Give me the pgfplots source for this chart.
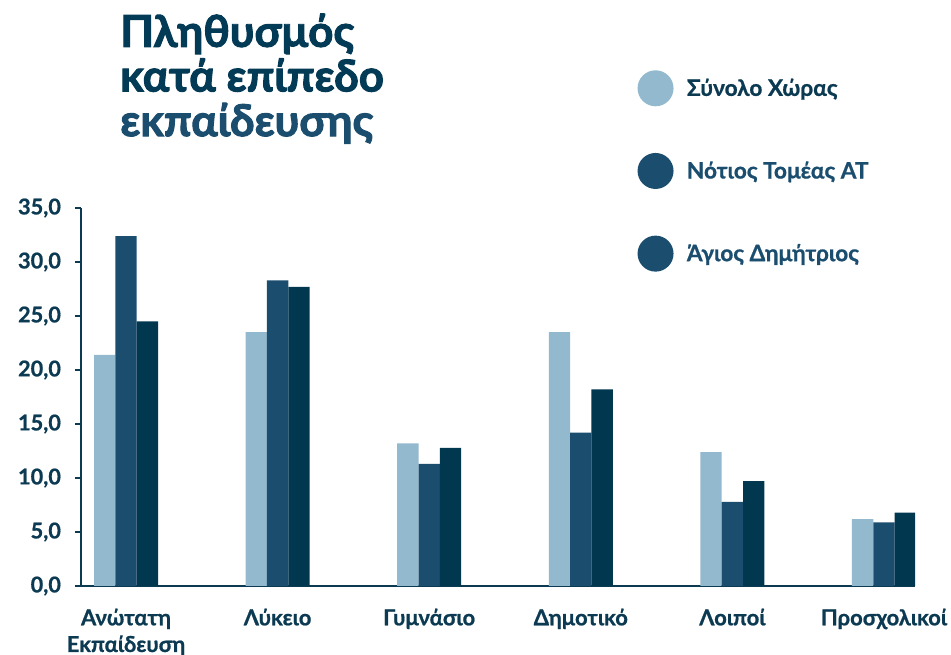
\documentclass[border=0pt]{standalone}
\usepackage{fontspec}
\setmainfont{Lato}[BoldFeatures={FakeBold=0.8}]
\newfontfamily\titlefont{Lato}[BoldFeatures={FakeBold=2.2}]
\usepackage{pgfplots}
\pgfplotsset{compat=1.18}
\definecolor{cLight}{HTML}{93B9CE}
\definecolor{cMid}{HTML}{1A4D6E}
\definecolor{cDark}{HTML}{023750}
\definecolor{cText}{HTML}{0B3A52}
\definecolor{cTitle}{HTML}{033A55}
\begin{document}
\begin{tikzpicture}
\path[use as bounding box] (0pt,0pt) rectangle (713.25pt,-491.25pt);
\node[anchor=north west, inner sep=0pt, align=left, font=\titlefont\fontsize{33}{33.5}\selectfont\bfseries, text=cTitle] at (90pt,-10pt)
 {Πληθυσμός\\κατά επίπεδο\\\textcolor{cMid}{εκπαίδευσης}};
\begin{axis}[
  at={(60.75pt,-439.5pt)}, anchor=south west,
  scale only axis, width=625.5pt, height=283.5pt,
  xmin=-0.297, xmax=5.205, ymin=0, ymax=35,
  axis x line*=bottom, axis y line*=left,
  x axis line style={line width=2.2pt, color=cText, -},
  y axis line style={line width=1.5pt, color=cText, -},
  ybar=0pt, bar width=16pt,
  xtick={0,1,2,3,4,5},
  xticklabels={{Ανώτατη\\Εκπαίδευση},Λύκειο,Γυμνάσιο,Δημοτικό,Λοιποί,Προσχολικοί},
  xtick style={draw=none},
  xticklabel style={align=center, font=\fontsize{16.5}{20}\selectfont\bfseries, text=cText, yshift=-9pt},
  ytick={0,5,...,35},
  tick align=outside, major tick length=4.5pt,
  ytick style={line width=1.2pt, color=cText},
  yticklabel style={font=\fontsize{16.3}{18}\selectfont\bfseries, text=cText, xshift=-7pt},
  yticklabel={\pgfmathprintnumber[fixed, fixed zerofill, precision=1, use comma, assume math mode=true]{\tick}},
  legend image code/.code={\fill[#1, draw=none] (0pt,0pt) circle (13.5pt);},
  legend style={at={(rel axis cs:0.667,1.365)}, anchor=north west, draw=none, fill=none,
    inner sep=0pt, row sep=35pt, column sep=8pt, font=\fontsize{17}{18}\selectfont\bfseries, text=cMid},
  legend cell align=left,
]
\addlegendimage{fill=cLight, draw=none}
\addlegendimage{fill=cMid, draw=none}
\addlegendimage{fill=cMid, draw=none}
\addplot[fill=cLight, draw=none, forget plot, bar shift=-16pt] coordinates {(0,21.4) (1,23.5) (2,13.2) (3,23.5) (4,12.4) (5,6.2)};
\addplot[fill=cMid, draw=none, forget plot, bar shift=0pt] coordinates {(0,32.4) (1,28.3) (2,11.3) (3,14.2) (4,7.8) (5,5.9)};
\addplot[fill=cDark, draw=none, forget plot, bar shift=16pt] coordinates {(0,24.5) (1,27.7) (2,12.8) (3,18.2) (4,9.7) (5,6.8)};
\legend{\textcolor{cText}{Σύνολο Χώρας},Νότιος Τομέας ΑΤ,Άγιος Δημήτριος}
\end{axis}
\end{tikzpicture}
\end{document}
